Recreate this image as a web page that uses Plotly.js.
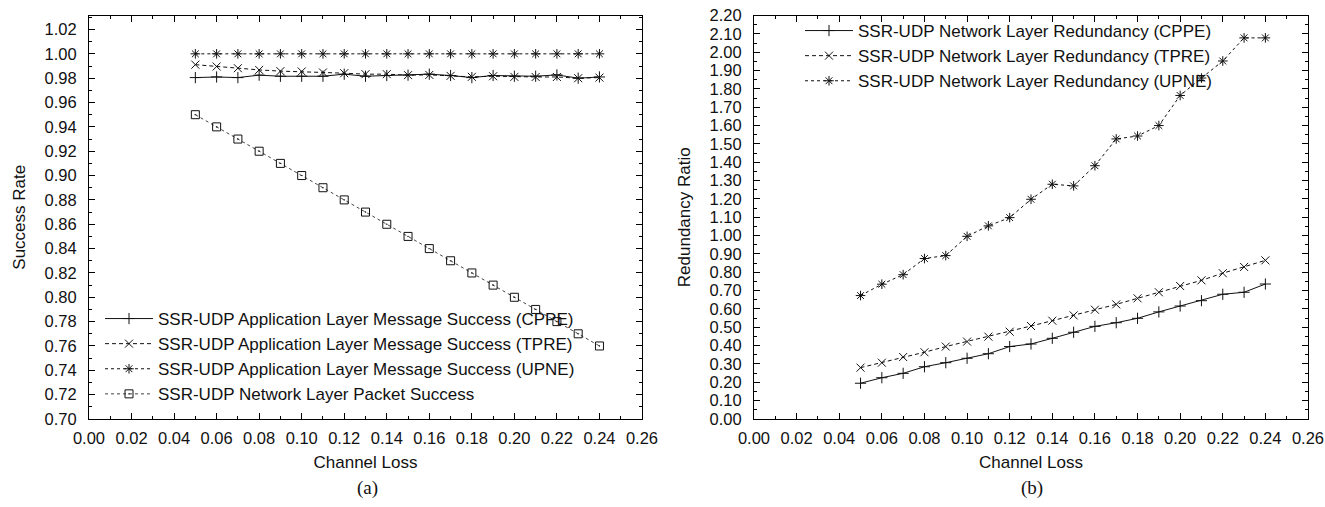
<!DOCTYPE html>
<html>
<head>
<meta charset="utf-8">
<script src="https://cdn.plot.ly/plotly-3.0.1.min.js"></script>
<style>html,body{margin:0;padding:0;background:#fff;}#chart{width:1325px;height:507px;}</style>
</head>
<body>
<div id="chart"></div>
<script>
// Channel loss values (x)
const channelLoss = [0.05,0.06,0.07,0.08,0.09,0.10,0.11,0.12,0.13,0.14,0.15,0.16,0.17,0.18,0.19,0.20,0.21,0.22,0.23,0.24];

// (a) Success rate series
const appSuccessCPPE = [0.9805,0.9810,0.9805,0.9825,0.9816,0.9816,0.9816,0.9833,0.9816,0.9822,0.9825,0.9833,0.9822,0.9805,0.9822,0.9816,0.9816,0.9827,0.9800,0.9810];
const appSuccessTPRE = [0.9911,0.9896,0.9882,0.9868,0.9858,0.9855,0.9847,0.9841,0.9833,0.9833,0.9825,0.9827,0.9819,0.9811,0.9816,0.9811,0.9810,0.9810,0.9800,0.9805];
const appSuccessUPNE = [1.00,1.00,1.00,1.00,1.00,1.00,1.00,1.00,1.00,1.00,1.00,1.00,1.00,1.00,1.00,1.00,1.00,1.00,1.00,1.00];
const netPacketSuccess = [0.95,0.94,0.93,0.92,0.91,0.90,0.89,0.88,0.87,0.86,0.85,0.84,0.83,0.82,0.81,0.80,0.79,0.78,0.77,0.76];

// (b) Redundancy ratio series
const redundCPPE = [0.195,0.225,0.249,0.285,0.307,0.331,0.356,0.395,0.409,0.440,0.473,0.505,0.525,0.549,0.584,0.616,0.645,0.680,0.691,0.736];
const redundTPRE = [0.280,0.307,0.338,0.364,0.395,0.422,0.449,0.476,0.507,0.536,0.565,0.596,0.625,0.658,0.691,0.725,0.756,0.795,0.829,0.865];
const redundUPNE = [0.673,0.735,0.787,0.875,0.891,0.996,1.053,1.098,1.198,1.280,1.271,1.381,1.527,1.543,1.600,1.764,1.859,1.952,2.078,2.078];

// Labels
const namesA = [
  'SSR-UDP Application Layer Message Success (CPPE)',
  'SSR-UDP Application Layer Message Success (TPRE)',
  'SSR-UDP Application Layer Message Success (UPNE)',
  'SSR-UDP Network Layer Packet Success'
];
const namesB = [
  'SSR-UDP Network Layer Redundancy (CPPE)',
  'SSR-UDP Network Layer Redundancy (TPRE)',
  'SSR-UDP Network Layer Redundancy (UPNE)'
];

const FONT = 'Liberation Sans, Arial, Helvetica, sans-serif';
const ink = '#111';

function tr(y, name, xa, ya, leg, dash, sym, col) {
  return {
    x: channelLoss, y: y, name: name, xaxis: xa, yaxis: ya, legend: leg,
    type: 'scatter', mode: 'lines+markers',
    line: {color: col || ink, width: 1, dash: dash},
    marker: {symbol: sym, size: 8, color: ink, line: {color: ink, width: 1}}
  };
}

const data = [
  tr(appSuccessCPPE, namesA[0], 'x', 'y', 'legend', 'solid', 'cross-thin-open'),
  tr(appSuccessTPRE, namesA[1], 'x', 'y', 'legend', '4px,3px', 'x-thin-open'),
  tr(appSuccessUPNE, namesA[2], 'x', 'y', 'legend', 'dot', 'asterisk-open'),
  tr(netPacketSuccess, namesA[3], 'x', 'y', 'legend', 'dot', 'square-open-dot', '#444'),
  tr(redundCPPE, namesB[0], 'x2', 'y2', 'legend2', 'solid', 'cross-thin-open'),
  tr(redundTPRE, namesB[1], 'x2', 'y2', 'legend2', '4px,3px', 'x-thin-open'),
  tr(redundUPNE, namesB[2], 'x2', 'y2', 'legend2', 'dot', 'asterisk-open')
];

function xax(domain, anchor) {
  return {
    domain: domain, anchor: anchor, range: [0, 0.26], tick0: 0, dtick: 0.02, tickformat: '.2f',
    ticks: 'inside', ticklen: 6, tickcolor: '#000', tickwidth: 1,
    showline: true, linecolor: '#000', linewidth: 1, mirror: 'allticks',
    showgrid: false, zeroline: false, ticklabelstandoff: 4,
    minor: {dtick: 0.01, ticks: 'inside', ticklen: 3, tickcolor: '#000', showgrid: false},
    tickfont: {family: FONT, size: 16.5, color: '#111'},
    title: {text: 'Channel Loss', font: {family: FONT, size: 17, color: '#111'}, standoff: 10}
  };
}
function yax(domain, anchor, range, dtick, minorDtick, title, standoff) {
  return {
    domain: domain, anchor: anchor, range: range, dtick: dtick, tick0: 0, tickformat: '.2f',
    ticks: 'inside', ticklen: 6, tickcolor: '#000', tickwidth: 1,
    showline: true, linecolor: '#000', linewidth: 1, mirror: 'allticks',
    showgrid: false, zeroline: false, ticklabelstandoff: 8,
    minor: {dtick: minorDtick, ticks: 'inside', ticklen: 3, tickcolor: '#000', showgrid: false},
    tickfont: {family: FONT, size: 16.5, color: '#111'},
    title: {text: title, font: {family: FONT, size: 17, color: '#111'}, standoff: standoff}
  };
}

const yDom = [(507 - 419) / 507, (507 - 15.5) / 507];

const layout = {
  width: 1325, height: 507,
  margin: {l: 0, r: 0, t: 0, b: 0},
  paper_bgcolor: '#fff', plot_bgcolor: '#fff',
  font: {family: FONT, color: '#111'},
  showlegend: true,
  xaxis: xax([89 / 1325, 642 / 1325], 'y'),
  yaxis: yax(yDom, 'x', [0.70, 1.0315], 0.02, 0.01, 'Success Rate', 14),
  xaxis2: xax([754 / 1325, 1308 / 1325], 'y2'),
  yaxis2: yax(yDom, 'x2', [0, 2.2], 0.1, 0.05, 'Redundancy Ratio', 14),
  legend: {
    x: 100 / 1325, xanchor: 'left', y: (507 - 412) / 507, yanchor: 'bottom',
    bgcolor: 'rgba(0,0,0,0)', borderwidth: 0, itemwidth: 48,
    font: {family: FONT, size: 17, color: '#111'}, tracegroupgap: 0
  },
  legend2: {
    x: 800 / 1325, xanchor: 'left', y: (507 - 13) / 507, yanchor: 'top',
    bgcolor: 'rgba(0,0,0,0)', borderwidth: 0, itemwidth: 48,
    font: {family: FONT, size: 17, color: '#111'}, tracegroupgap: 0
  },
  annotations: [
    {text: '(a)', xref: 'paper', yref: 'paper', x: 367 / 1325, y: (507 - 488) / 507, showarrow: false,
     xanchor: 'center', yanchor: 'middle', font: {family: 'Liberation Serif, Times New Roman, serif', size: 19, color: '#111'}},
    {text: '(b)', xref: 'paper', yref: 'paper', x: 1032 / 1325, y: (507 - 488) / 507, showarrow: false,
     xanchor: 'center', yanchor: 'middle', font: {family: 'Liberation Serif, Times New Roman, serif', size: 19, color: '#111'}}
  ]
};

Plotly.newPlot('chart', data, layout, {staticPlot: true, displayModeBar: false});
</script>
</body>
</html>
